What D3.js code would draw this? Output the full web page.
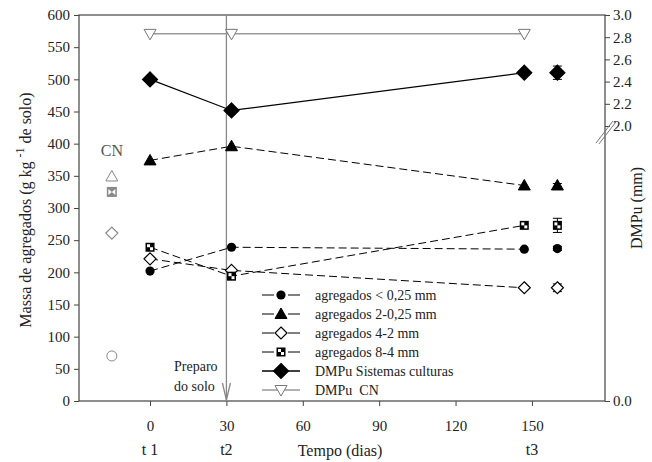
<!DOCTYPE html>
<html>
<head>
<meta charset="utf-8">
<script src="https://cdn.jsdelivr.net/npm/d3@7"></script>
<style>
  body { margin: 0; background: #fff; }
</style>
</head>
<body>
<div id="chart"></div>
<script>
const width = 652;
const height = 462;

// sampling days
const days = [0, 32, 147];
const meanDay = 160;
const cnDay = -15;
const xTicks = [0, 30, 60, 90, 120, 150];
const stageLabels = ["t 1", "t2", "t3"];
const stageDays = [0, 30, 150];

// aggregate classes (g kg-1)
const aggNames = ["agregados < 0,25 mm", "agregados 2-0,25 mm", "agregados 4-2 mm", "agregados 8-4 mm"];
const aggLt025 = [202, 239, 236];
const agg2to025 = [374, 396, 335];
const agg4to2 = [221, 203, 176];
const agg8to4 = [239, 194, 273];
const aggMeans = [237, 335, 176, 273];
const aggErr = [3, 3, 6, 11];
const cnAgg = [70, 349, 261, 325];

// DMPu (mm)
const dmpuSist = [2.42, 2.14, 2.48];
const dmpuMean = 2.48;
const dmpuErr = 0.06;
const dmpuCN = [2.83, 2.83, 2.83];

const leftTicks = d3.range(0, 601, 50);
const rightTicks = [0, 2.0, 2.2, 2.4, 2.6, 2.8, 3.0];

const svg = d3.select("#chart")
    .append("svg")
    .attr("width", width)
    .attr("height", height);

const x = d3.scaleLinear().domain([-27.9, 178.7]).range([79, 605]);
const y = d3.scaleLinear().domain([0, 600]).range([401, 15]);
const y2 = d3.scaleLinear().domain([0, 2, 3]).range([401, 126, 15]);

// serif text helper
function serif(sel, size) {
    return sel.attr("style", `font-family:'Liberation Serif';font-size:${size}px;white-space:pre`).attr("fill", "#222");
}

// marker drawing
function marker(g, type, cx, cy, color) {
    color = color || "#000";
    if (type === "circle") {
        g.append("circle").attr("cx", cx).attr("cy", cy).attr("r", 4.6).attr("fill", color);
    } else if (type === "openCircle") {
        g.append("circle").attr("cx", cx).attr("cy", cy).attr("r", 5).attr("fill", "#fff")
            .attr("stroke", color).attr("stroke-width", 1);
    } else if (type === "tri" || type === "openTri") {
        const s = 6;
        g.append("path")
            .attr("d", `M${cx},${cy - s}L${cx + s},${cy + s * 0.75}L${cx - s},${cy + s * 0.75}Z`)
            .attr("fill", type === "tri" ? color : "#fff")
            .attr("stroke", color).attr("stroke-width", 1);
    } else if (type === "triDown") {
        const s = 6;
        g.append("path")
            .attr("d", `M${cx},${cy + s}L${cx + s},${cy - s * 0.75}L${cx - s},${cy - s * 0.75}Z`)
            .attr("fill", "#fff").attr("stroke", color).attr("stroke-width", 1);
    } else if (type === "diamond" || type === "bigDiamond") {
        const s = type === "bigDiamond" ? 7.5 : 6;
        g.append("path")
            .attr("d", `M${cx},${cy - s}L${cx + s},${cy}L${cx},${cy + s}L${cx - s},${cy}Z`)
            .attr("fill", type === "bigDiamond" ? color : "#fff")
            .attr("stroke", color).attr("stroke-width", 1.2);
    } else if (type === "square") {
        const s = 4.5;
        g.append("rect").attr("x", cx - s).attr("y", cy - s).attr("width", 2 * s).attr("height", 2 * s)
            .attr("fill", color);
        g.append("rect").attr("x", cx - s + 1.5).attr("y", cy - s + 1.5).attr("width", s - 1.5).attr("height", s - 1.5)
            .attr("fill", "#fff");
        g.append("rect").attr("x", cx).attr("y", cy).attr("width", s - 1.5).attr("height", s - 1.5)
            .attr("fill", "#fff");
    } else if (type === "cnSquare") {
        const s = 5;
        g.append("rect").attr("x", cx - s).attr("y", cy - s).attr("width", 2 * s).attr("height", 2 * s)
            .attr("fill", color);
        g.append("path")
            .attr("d", `M${cx - s + 1.5},${cy - s + 2}L${cx},${cy}L${cx - s + 1.5},${cy + s - 2}Z M${cx + s - 1.5},${cy - s + 2}L${cx},${cy}L${cx + s - 1.5},${cy + s - 2}Z`)
            .attr("fill", "#fff");
    }
}

function errorBar(g, cx, lo, hi) {
    g.append("line").attr("x1", cx).attr("x2", cx).attr("y1", lo).attr("y2", hi)
        .attr("stroke", "#000").attr("stroke-width", 1);
    [lo, hi].forEach(v => g.append("line").attr("x1", cx - 4.5).attr("x2", cx + 4.5)
        .attr("y1", v).attr("y2", v).attr("stroke", "#000").attr("stroke-width", 1));
}

// frame
svg.append("rect").attr("x", 79).attr("y", 15).attr("width", 526).attr("height", 386)
    .attr("fill", "none").attr("stroke", "#444").attr("stroke-width", 1.2);

// left axis
const leftAxis = svg.append("g").attr("transform", "translate(79,0)")
    .call(d3.axisLeft(y).tickValues(leftTicks).tickSize(5).tickPadding(4));
leftAxis.attr("font-family", null);
leftAxis.select(".domain").remove();
leftAxis.selectAll("line").attr("stroke", "#444");
serif(leftAxis.selectAll("text"), 15);

// right axis
const rightAxis = svg.append("g").attr("transform", "translate(605,0)")
    .call(d3.axisRight(y2).tickValues(rightTicks).tickSize(5).tickFormat(d3.format(".1f")).tickPadding(3));
rightAxis.attr("font-family", null);
rightAxis.select(".domain").remove();
rightAxis.selectAll("line").attr("stroke", "#444");
serif(rightAxis.selectAll("text"), 15);

// axis break marks
[0, 3].forEach(o => svg.append("line")
    .attr("x1", 596 + o).attr("y1", 143 + o * 0.3)
    .attr("x2", 613 + o).attr("y2", 121 + o * 0.3)
    .attr("stroke", "#777").attr("stroke-width", 1));

// bottom axis
const bottomAxis = svg.append("g").attr("transform", "translate(0,401)")
    .call(d3.axisBottom(x).tickValues(xTicks).tickSize(5).tickPadding(14));
bottomAxis.attr("font-family", null);
bottomAxis.select(".domain").remove();
bottomAxis.selectAll("line").attr("stroke", "#444");
serif(bottomAxis.selectAll("text"), 15);

serif(svg.selectAll(".stage")
    .data(stageLabels)
    .enter()
    .append("text")
    .attr("class", "stage")
    .attr("x", (d, i) => x(stageDays[i]))
    .attr("y", 455)
    .attr("text-anchor", "middle")
    .text(d => d), 16);

serif(svg.append("text").attr("x", 340).attr("y", 456).attr("text-anchor", "middle")
    .text("Tempo (dias)"), 16);

// axis titles
const yTitle = serif(svg.append("text")
    .attr("transform", "translate(31,210) rotate(-90)")
    .attr("text-anchor", "middle"), 16);
yTitle.append("tspan").text("Massa de agregados (g kg ");
yTitle.append("tspan").attr("dy", -7).attr("style", "font-size:12px").text("-1");
yTitle.append("tspan").attr("dy", 7).text(" de solo)");

serif(svg.append("text")
    .attr("transform", "translate(642,208) rotate(-90)")
    .attr("text-anchor", "middle")
    .text("DMPu (mm)"), 16);

// soil preparation arrow
svg.append("line").attr("x1", x(30)).attr("x2", x(30)).attr("y1", 15).attr("y2", 400)
    .attr("stroke", "#888").attr("stroke-width", 1.3);
svg.append("path")
    .attr("d", `M${x(30) - 4},${383}L${x(30)},${400}L${x(30) + 4},${383}`)
    .attr("fill", "none").attr("stroke", "#888").attr("stroke-width", 1.3);
serif(svg.append("text").attr("x", 174).attr("y", 371).text("Preparo"), 14);
serif(svg.append("text").attr("x", 174).attr("y", 391).text("do solo"), 14);

// DMPu CN line
const lineR = d3.line().x(d => x(d[0])).y(d => y2(d[1]));
svg.append("path").datum(days.map((d, i) => [d, dmpuCN[i]]))
    .attr("d", lineR).attr("fill", "none").attr("stroke", "#999").attr("stroke-width", 1.5);

// aggregate series
const aggSeries = [aggLt025, agg2to025, agg4to2, agg8to4];
const aggMarkers = ["circle", "tri", "diamond", "square"];
const cnMarkers = ["openCircle", "openTri", "diamond", "cnSquare"];
const lineL = d3.line().x(d => x(d[0])).y(d => y(d[1]));

aggSeries.forEach((vals, k) => {
    svg.append("path").datum(days.map((d, i) => [d, vals[i]]))
        .attr("d", lineL).attr("fill", "none").attr("stroke", "#000")
        .attr("stroke-width", 1).attr("stroke-dasharray", "8,4");
});

// DMPu sistemas line
svg.append("path").datum(days.map((d, i) => [d, dmpuSist[i]]))
    .attr("d", lineR).attr("fill", "none").attr("stroke", "#000").attr("stroke-width", 1.2);

const marks = svg.append("g");
days.forEach((d, i) => marker(marks, "triDown", x(d), y2(dmpuCN[i]), "#777"));
aggSeries.forEach((vals, k) => {
    days.forEach((d, i) => marker(marks, aggMarkers[k], x(d), y(vals[i])));
    errorBar(marks, x(meanDay), y(aggMeans[k] - aggErr[k]), y(aggMeans[k] + aggErr[k]));
    marker(marks, aggMarkers[k], x(meanDay), y(aggMeans[k]));
    marker(marks, cnMarkers[k], x(cnDay), y(cnAgg[k]), "#888");
});
days.forEach((d, i) => marker(marks, "bigDiamond", x(d), y2(dmpuSist[i])));
errorBar(marks, x(meanDay), y2(dmpuMean - dmpuErr), y2(dmpuMean + dmpuErr));
marker(marks, "bigDiamond", x(meanDay), y2(dmpuMean));

serif(svg.append("text").attr("x", x(cnDay)).attr("y", 156).attr("text-anchor", "middle")
    .text("CN"), 16).attr("fill", "#555");

// legend
const legendNames = aggNames.concat(["DMPu Sistemas culturas", "DMPu  CN"]);
const legendMarkers = aggMarkers.concat(["bigDiamond", "triDown"]);
const legend = svg.selectAll(".legend")
    .data(legendNames)
    .enter()
    .append("g")
    .attr("class", "legend")
    .attr("transform", (d, i) => `translate(262,${295 + i * 19})`);

legend.each(function (d, i) {
    const g = d3.select(this);
    const grey = i === 5;
    g.append("line").attr("x1", 0).attr("x2", 38).attr("y1", 0).attr("y2", 0)
        .attr("stroke", grey ? "#999" : "#000")
        .attr("stroke-width", i >= 4 ? 1.3 : 1)
        .attr("stroke-dasharray", i < 4 ? "12,14" : null);
    marker(g, legendMarkers[i], 19, 0, grey ? "#777" : "#000");
    serif(g.append("text").attr("x", 53).attr("y", 5).text(d), 14);
});
</script>
</body>
</html>
